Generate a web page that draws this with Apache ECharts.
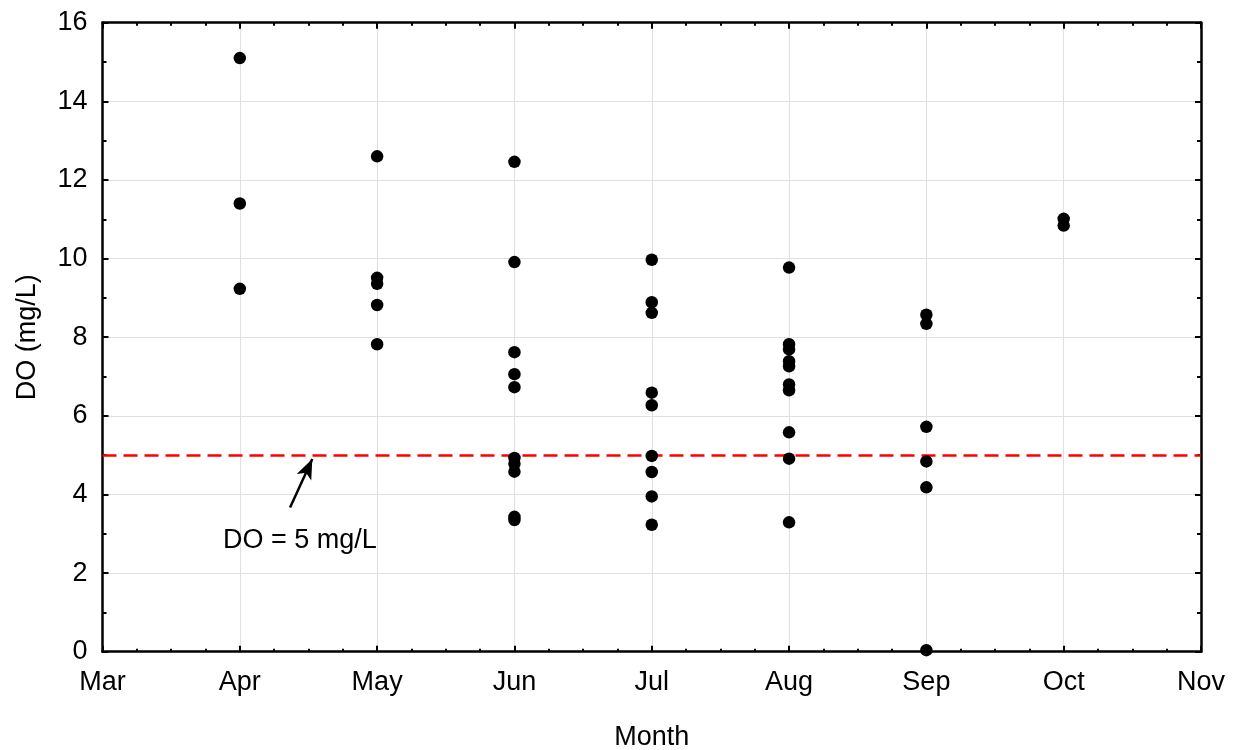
<!DOCTYPE html>
<html>
<head>
<meta charset="utf-8">
<script src="https://cdn.jsdelivr.net/npm/echarts@6/dist/echarts.min.js"></script>
<style>html,body{margin:0;padding:0;background:#fff}#c{width:1237px;height:750px}</style>
</head>
<body>
<div id="c"></div>
<script>
// Tick labels for x axis (0 = Mar ... 8 = Nov)
const monthLabels = ['Mar','Apr','May','Jun','Jul','Aug','Sep','Oct','Nov'];
// DO values (mg/L) per month
const aprDO = [15.1, 11.4, 9.23];
const mayDO = [12.6, 9.51, 9.36, 8.82, 7.82];
const junDO = [12.46, 9.91, 7.62, 7.06, 6.73, 4.93, 4.78, 4.58, 3.43, 3.35];
const julDO = [9.97, 8.89, 8.62, 6.59, 6.27, 4.98, 4.57, 3.95, 3.23];
const augDO = [9.77, 7.82, 7.69, 7.39, 7.26, 6.80, 6.65, 5.58, 4.91, 3.29];
const sepDO = [8.57, 8.34, 5.72, 4.84, 4.18, 0.04];
const octDO = [11.01, 10.84];
const monthSeries = [[1, aprDO],[2, mayDO],[3, junDO],[4, julDO],[5, augDO],[6, sepDO],[7, octDO]];
// Threshold and annotation
const threshold = 5;
const arrowFrom = [1.366, 3.67];
const arrowTo = [1.528, 4.9];
const noteAt = [1.438, 2.82];
const noteText = 'DO = 5 mg/L';

const points = [];
monthSeries.forEach(([x, vals]) => vals.forEach(v => points.push([x, v])));

const font = 'Liberation Sans, Arial, sans-serif';
const fs = 27;
const chart = echarts.init(document.getElementById('c'), null, {renderer: 'canvas'});
const axisLineStyle = {color: '#000', width: 2.5};
chart.setOption({
  animation: false,
  backgroundColor: '#fff',
  grid: {left: 102.5, right: 36, top: 22.7, bottom: 98.3, containLabel: false, outerBoundsMode: 'none'},
  xAxis: [{
    type: 'value', min: 0, max: 8, interval: 1, splitNumber: 4,
    name: 'Month', nameLocation: 'middle', nameGap: 72,
    nameTextStyle: {fontFamily: font, fontSize: fs, color: '#000'},
    axisLine: {show: true, onZero: false, lineStyle: axisLineStyle},
    axisTick: {show: true, inside: true, length: 6, lineStyle: {color: '#000', width: 2}},
    minorTick: {show: true, splitNumber: 4, length: 3, lineStyle: {color: '#000', width: 2}},
    axisLabel: {fontFamily: font, fontSize: fs, color: '#000', margin: 17,
      formatter: v => monthLabels[Math.round(v)] || ''},
    splitLine: {show: true, lineStyle: {color: '#e0e0e0', width: 1}}
  }, {
    type: 'value', position: 'top', min: 0, max: 8, interval: 1,
    axisLine: {show: true, onZero: false, lineStyle: axisLineStyle},
    axisTick: {show: true, inside: true, length: 6, lineStyle: {color: '#000', width: 2}},
    minorTick: {show: true, splitNumber: 4, length: 3, lineStyle: {color: '#000', width: 2}},
    axisLabel: {show: false}, splitLine: {show: false}
  }],
  yAxis: [{
    type: 'value', min: 0, max: 16, interval: 2,
    name: 'DO (mg/L)', nameLocation: 'middle', nameGap: 61,
    nameTextStyle: {fontFamily: font, fontSize: fs, color: '#000'},
    axisLine: {show: true, onZero: false, lineStyle: axisLineStyle},
    axisTick: {show: true, inside: true, length: 6, lineStyle: {color: '#000', width: 2}},
    minorTick: {show: true, splitNumber: 2, length: 4, lineStyle: {color: '#000', width: 2}},
    axisLabel: {fontFamily: font, fontSize: fs, color: '#000', margin: 15},
    splitLine: {show: true, lineStyle: {color: '#e0e0e0', width: 1}}
  }, {
    type: 'value', position: 'right', min: 0, max: 16, interval: 2,
    axisLine: {show: true, onZero: false, lineStyle: axisLineStyle},
    axisTick: {show: true, inside: true, length: 6, lineStyle: {color: '#000', width: 2}},
    minorTick: {show: true, splitNumber: 2, length: 4, lineStyle: {color: '#000', width: 2}},
    axisLabel: {show: false}, splitLine: {show: false}
  }],
  series: [{
    type: 'line', xAxisIndex: 0, yAxisIndex: 0, data: [], z: 3,
    markLine: {
      silent: true, animation: false, symbol: 'none',
      lineStyle: {color: '#ff0000', width: 2.5, type: [14, 7]},
      label: {show: false},
      data: [{yAxis: threshold}]
    }
  }, {
    type: 'scatter', xAxisIndex: 0, yAxisIndex: 0,
    data: points, symbol: 'circle', symbolSize: 12.5,
    itemStyle: {color: '#000', opacity: 1},
    z: 5
  }, {
    type: 'scatter', xAxisIndex: 0, yAxisIndex: 0, data: [], z: 6,
    markLine: {
      silent: true, animation: false, symbolSize: [12, 20],
      lineStyle: {color: '#000', width: 2.5, type: 'solid'},
      label: {show: false},
      data: [[{coord: arrowFrom, symbol: 'none'}, {coord: arrowTo, symbol: 'arrow'}]]
    },
    markPoint: {
      silent: true, animation: false,
      data: [{coord: noteAt, symbol: 'circle', symbolSize: 1, itemStyle: {color: 'rgba(0,0,0,0)'},
        label: {show: true, position: 'inside', formatter: noteText, fontFamily: font, fontSize: fs, color: '#000'}}]
    }
  }]
});
</script>
</body>
</html>
